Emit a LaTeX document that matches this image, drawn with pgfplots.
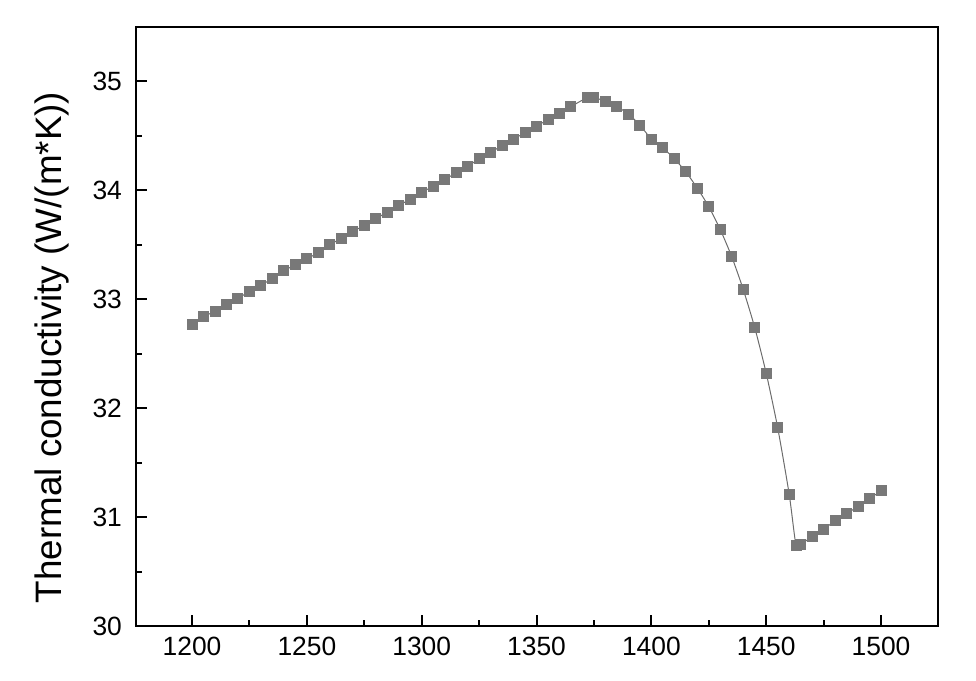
\documentclass[border=0pt]{standalone}
\usepackage{fontspec}
\setmainfont{Liberation Sans}
\usepackage{pgfplots}
\pgfplotsset{compat=1.18}
\usetikzlibrary{calc}
\definecolor{markgray}{RGB}{120,120,120}

\begin{document}
\begin{tikzpicture}
\begin{axis}[
    scale only axis,
    width=401pt, height=299.5pt,
    xmin=1175.6, xmax=1524.8,
    ymin=30, ymax=35.5,
    xtick={1200,1250,...,1500},
    minor xtick={1225,1275,...,1475},
    ytick={30,31,...,35},
    minor ytick={30.5,31.5,...,34.5},
    tick pos=left,
    tick align=inside,
    major tick length=5.5pt,
    minor tick length=3pt,
    every tick/.style={black, line width=1pt},
    axis line style={line width=1.2pt},
    /pgf/number format/assume math mode=true,
    /pgf/number format/1000 sep={},
    ticklabel style={font=\fontsize{13.2}{15}\selectfont},
    yticklabel style={xshift=-3.5pt},
    xticklabel style={yshift=-2pt},
    ylabel={Thermal conductivity (W/(m*K))},
    ylabel style={font=\fontsize{18.4}{21}\selectfont, at={(ticklabel cs:0.465)}},
    ylabel shift=5pt,
    clip=false,
]
\addplot[
    markgray!90!black, line width=0.5pt, smooth, tension=0.4,
    mark=square*, mark size=2.5pt,
    mark options={solid, fill=markgray, draw=markgray}
] coordinates {
    (1200,32.77) (1205,32.84) (1210,32.89) (1215,32.95) (1220,33.01)
    (1225,33.07) (1230,33.13) (1235,33.19) (1240,33.26) (1245,33.32)
    (1250,33.37) (1255,33.43) (1260,33.50) (1265,33.56) (1270,33.62)
    (1275,33.68) (1280,33.74) (1285,33.80) (1290,33.86) (1295,33.92)
    (1300,33.98) (1305,34.04) (1310,34.10) (1315,34.16) (1320,34.22)
    (1325,34.29) (1330,34.35) (1335,34.41) (1340,34.47) (1345,34.53)
    (1350,34.59) (1355,34.65) (1360,34.71) (1365,34.77)
    (1372,34.85) (1375,34.85) (1380,34.82) (1385,34.77) (1390,34.70)
    (1395,34.60) (1400,34.47) (1405,34.39) (1410,34.29) (1415,34.17)
    (1420,34.02) (1425,33.85) (1430,33.64) (1435,33.39) (1440,33.09)
    (1445,32.74) (1450,32.32) (1455,31.82) (1460,31.21)
    (1463,30.735) (1465,30.75) (1470,30.82) (1475,30.89) (1480,30.965)
    (1485,31.03) (1490,31.10) (1495,31.17) (1500,31.24)
};
\end{axis}
\path ($(current axis.south west)+(-68pt,-27pt)$) rectangle ($(current axis.north east)+(19pt,13.5pt)$);
\end{tikzpicture}
\end{document}
